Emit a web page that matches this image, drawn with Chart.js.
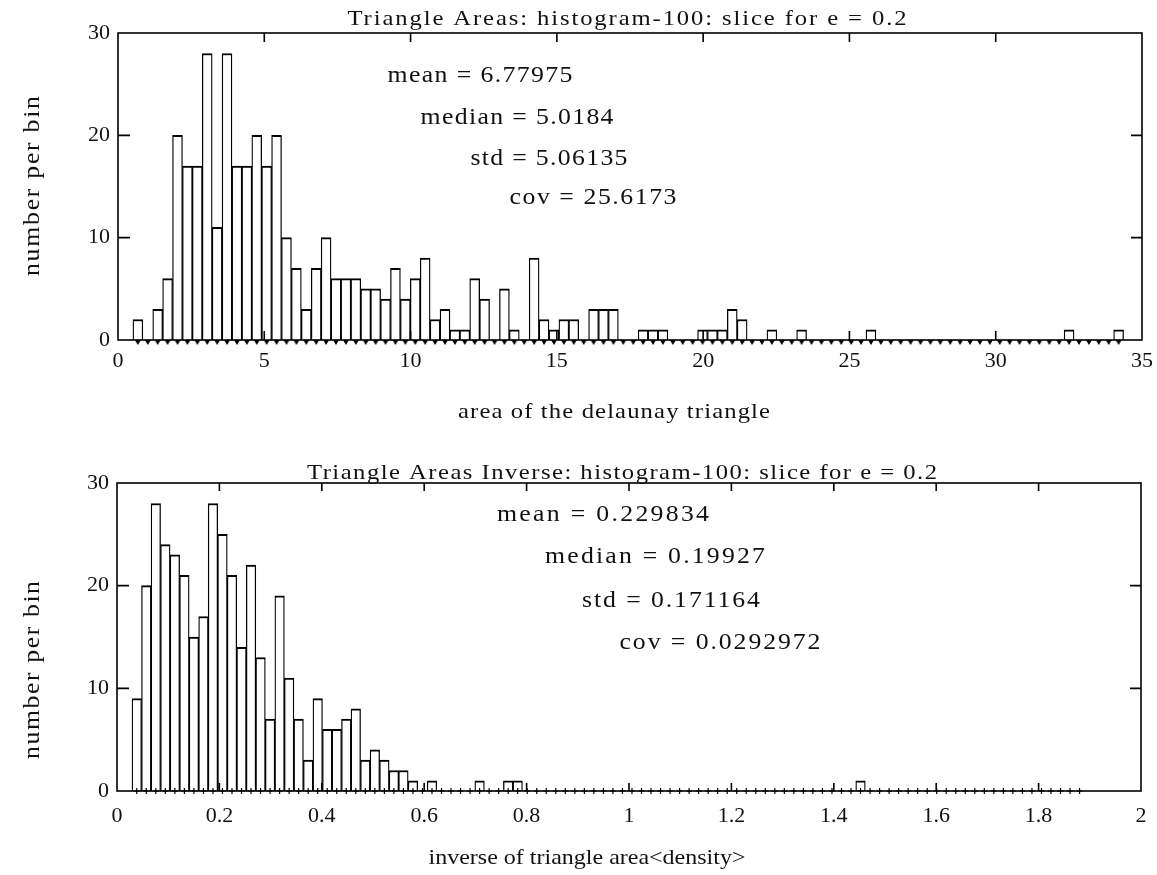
<!DOCTYPE html>
<html><head><meta charset="utf-8">
<script src="https://cdn.jsdelivr.net/npm/chart.js@4.4.1/dist/chart.umd.min.js"></script>
<style>
html,body{margin:0;padding:0;background:#fff;}
#wrap{position:relative;width:1157px;height:875px;overflow:hidden;}
canvas{position:absolute;left:0;}
</style></head><body>
<div id="wrap">
<canvas id="c1" width="1157" height="430" style="top:0;width:1157px;height:430px"></canvas>
<canvas id="c2" width="1157" height="445" style="top:430px;width:1157px;height:445px"></canvas>
</div>
<script>
// ---------- data ----------
// Top histogram: triangle areas, 100 bins between areaMin and areaMax
const areaMin = 0.51, areaMax = 34.37;
const areaCounts = [2,0,3,6,20,17,17,28,11,28, 17,17,20,17,20,10,7,3,7,10, 6,6,6,5,5,4,7,4,6,8,
  2,3,1,1,6,4,0,5,1,0, 8,2,1,2,2,0,3,3,3,0, 0,1,1,1,0,0,0,1,1,1, 3,2,0,0,1,0,0,1,0,0,
  0,0,0,0,1,0,0,0,0,0, 0,0,0,0,0,0,0,0,0,0, 0,0,0,0,1,0,0,0,0,1];
// Bottom histogram: inverse triangle areas, 100 bins between invMin and invMax
const invMin = 0.0293, invMax = 1.8893;
const invCounts = [9,20,28,24,23,21,15,17,28,25, 21,14,22,13,7,19,11,7,3,9, 6,6,7,8,3,4,3,2,2,1,
  0,1,0,0,0,0,1,0,0,1, 1,0,0,0,0,0,0,0,0,0, 0,0,0,0,0,0,0,0,0,0, 0,0,0,0,0,0,0,0,0,0,
  0,0,0,0,0,0,1,0,0,0, 0,0,0,0,0,0,0,0,0,0, 0,0,0,0,0,0,0,0,0,0];
const areaXTicks = [0,5,10,15,20,25,30,35];
const areaXTickLabels = ['0','5','10','15','20','25','30','35'];
const invXTicks = [0,0.2,0.4,0.6,0.8,1,1.2,1.4,1.6,1.8,2];
const invXTickLabels = ['0','0.2','0.4','0.6','0.8','1','1.2','1.4','1.6','1.8','2'];
const yTicks = [0,10,20,30];
const yTickLabels = ['0','10','20','30'];
const areaTitle = 'Triangle Areas: histogram-100: slice for e = 0.2';
const invTitle = 'Triangle Areas Inverse: histogram-100: slice for e = 0.2';
const areaStats = ['mean = 6.77975','median = 5.0184','std = 5.06135','cov = 25.6173'];
const invStats = ['mean = 0.229834','median = 0.19927','std = 0.171164','cov = 0.0292972'];
const areaXLabel = 'area of the delaunay triangle';
const invXLabel = 'inverse of triangle area<density>';
const yLabel = 'number per bin';

function binCenters(lo, hi, n){ const w=(hi-lo)/n; const c=[]; for(let i=0;i<n;i++) c.push(lo+(i+0.5)*w); return c; }

// ---------- styling helpers ----------
const FONT = '"Liberation Serif", "DejaVu Serif", serif';
function drawFit(ctx, text, cx, cy, width, size, rot){
  ctx.save();
  ctx.font = size + 'px ' + FONT;
  ctx.fillStyle = '#111';
  ctx.textBaseline = 'middle';
  ctx.textAlign = 'left';
  const hasLS = ('letterSpacing' in ctx);
  if (hasLS) ctx.letterSpacing = '0px';
  const w0 = ctx.measureText(text).width;
  ctx.translate(cx, cy);
  if (rot) ctx.rotate(rot);
  if (width) {
    const sx = Math.min(1.12, Math.max(0.85, width / w0));
    const rest = width - w0 * sx;
    ctx.scale(sx, 1);
    if (hasLS) {
      const ls = rest / sx / Math.max(1, text.length - 1);
      ctx.letterSpacing = ls + 'px';
    }
    ctx.fillText(text, -width / 2 / sx, 0);
  } else {
    ctx.fillText(text, -w0/2, 0);
  }
  ctx.restore();
}

function makeTriangle(){
  const c = document.createElement('canvas'); c.width = 14; c.height = 14;
  const g = c.getContext('2d'); g.fillStyle = '#000';
  g.beginPath(); g.moveTo(4,7); g.lineTo(10,7); g.lineTo(7,12); g.closePath(); g.fill();
  return c;
}

function axesPlugin(cfg){
  return {
    id: 'axesBox',
    afterDatasetsDraw(chart){
      const ctx = chart.ctx, a = chart.chartArea;
      const xs = chart.scales.x, ys = chart.scales.y;
      const off = cfg.offset;
      ctx.save();
      ctx.strokeStyle = '#000'; ctx.lineWidth = 1.6;
      ctx.strokeRect(a.left, a.top, a.right - a.left, a.bottom - a.top);
      ctx.beginPath();
      cfg.xTicks.forEach((v,i)=>{
        if (i===0 || i===cfg.xTicks.length-1) return;
        const px = xs.getPixelForValue(v);
        ctx.moveTo(px, a.bottom); ctx.lineTo(px, a.bottom - cfg.xTickLen);
        ctx.moveTo(px, a.top); ctx.lineTo(px, a.top + cfg.xTickLen);
      });
      yTicks.forEach((v,i)=>{
        if (i===0 || i===yTicks.length-1) return;
        const py = ys.getPixelForValue(v);
        ctx.moveTo(a.left, py); ctx.lineTo(a.left + 12, py);
        ctx.moveTo(a.right, py); ctx.lineTo(a.right - 11, py);
      });
      ctx.stroke();
      ctx.restore();
      cfg.xTicks.forEach((v,i)=>{
        drawFit(ctx, cfg.xTickLabels[i], xs.getPixelForValue(v), cfg.xLabelY - off, 0, 22);
      });
      yTicks.forEach((v,i)=>{
        ctx.save(); ctx.font = '22px ' + FONT; ctx.fillStyle = '#111';
        ctx.textAlign = 'right'; ctx.textBaseline = 'middle';
        ctx.fillText(yTickLabels[i], a.left - 8, ys.getPixelForValue(v));
        ctx.restore();
      });
      drawFit(ctx, cfg.title, cfg.titleX, cfg.titleY - off, cfg.titleW, 22);
      cfg.stats.forEach((s,i)=> drawFit(ctx, s, cfg.statPos[i][0], cfg.statPos[i][1] - off, cfg.statPos[i][2], 23));
      drawFit(ctx, cfg.xLabel, cfg.xLabelPos[0], cfg.xLabelPos[1] - off, cfg.xLabelPos[2], 22);
      drawFit(ctx, yLabel, 33, cfg.yLabelPos[0] - off, cfg.yLabelPos[1], 23, -Math.PI/2);
    }
  };
}

function makeChart(id, counts, lo, hi, xmax, pad, marker, cfg){
  const centers = binCenters(lo, hi, counts.length);
  const bars = counts.map((c,i)=>({x: centers[i], y: c}));
  const marks = centers.map(x=>({x: x, y: 0}));
  return new Chart(document.getElementById(id), {
    type: 'bar',
    data: { datasets: [
      { type: 'bar', data: bars, backgroundColor: '#fff', borderColor: '#000',
        borderWidth: {top: 2, left: 1.3, right: 1.3, bottom: 0}, borderSkipped: 'start',
        barPercentage: 1, categoryPercentage: 1, order: 2 },
      Object.assign({ type: 'line', data: marks, showLine: false, clip: false, order: 1 }, marker)
    ]},
    options: {
      responsive: false, animation: false, devicePixelRatio: 1,
      layout: { padding: pad },
      plugins: { legend: {display: false}, tooltip: {enabled: false}, title: {display: false} },
      scales: {
        x: { type: 'linear', min: 0, max: xmax, display: false, offset: false, grid: {offset: false} },
        y: { type: 'linear', min: 0, max: 30, display: false }
      }
    },
    plugins: [axesPlugin(cfg)]
  });
}

makeChart('c1', areaCounts, areaMin, areaMax, 35,
  {left: 118, right: 15, top: 33, bottom: 90},
  { pointStyle: makeTriangle(), pointRadius: 5 },
  { offset: 0, xTicks: areaXTicks, xTickLabels: areaXTickLabels, xTickLen: 9, xLabelY: 361,
    title: areaTitle, titleX: 627, titleY: 19, titleW: 559,
    stats: areaStats,
    statPos: [[480, 76, 185], [517, 118, 193], [549, 159, 157], [593, 198, 167]],
    xLabel: areaXLabel, xLabelPos: [614, 412, 312],
    yLabelPos: [186, 180] });

makeChart('c2', invCounts, invMin, invMax, 2,
  {left: 117, right: 16, top: 53, bottom: 84},
  { pointStyle: 'cross', pointRadius: 3, pointBorderColor: '#000', pointBorderWidth: 1.2 },
  { offset: 430, xTicks: invXTicks, xTickLabels: invXTickLabels, xTickLen: 8, xLabelY: 816,
    title: invTitle, titleX: 622, titleY: 473, titleW: 630,
    stats: invStats,
    statPos: [[603, 515, 212], [655, 557, 220], [671, 601, 178], [720, 643, 201]],
    xLabel: invXLabel, xLabelPos: [587, 858, 317],
    yLabelPos: [670, 178] });
</script>
</body></html>
